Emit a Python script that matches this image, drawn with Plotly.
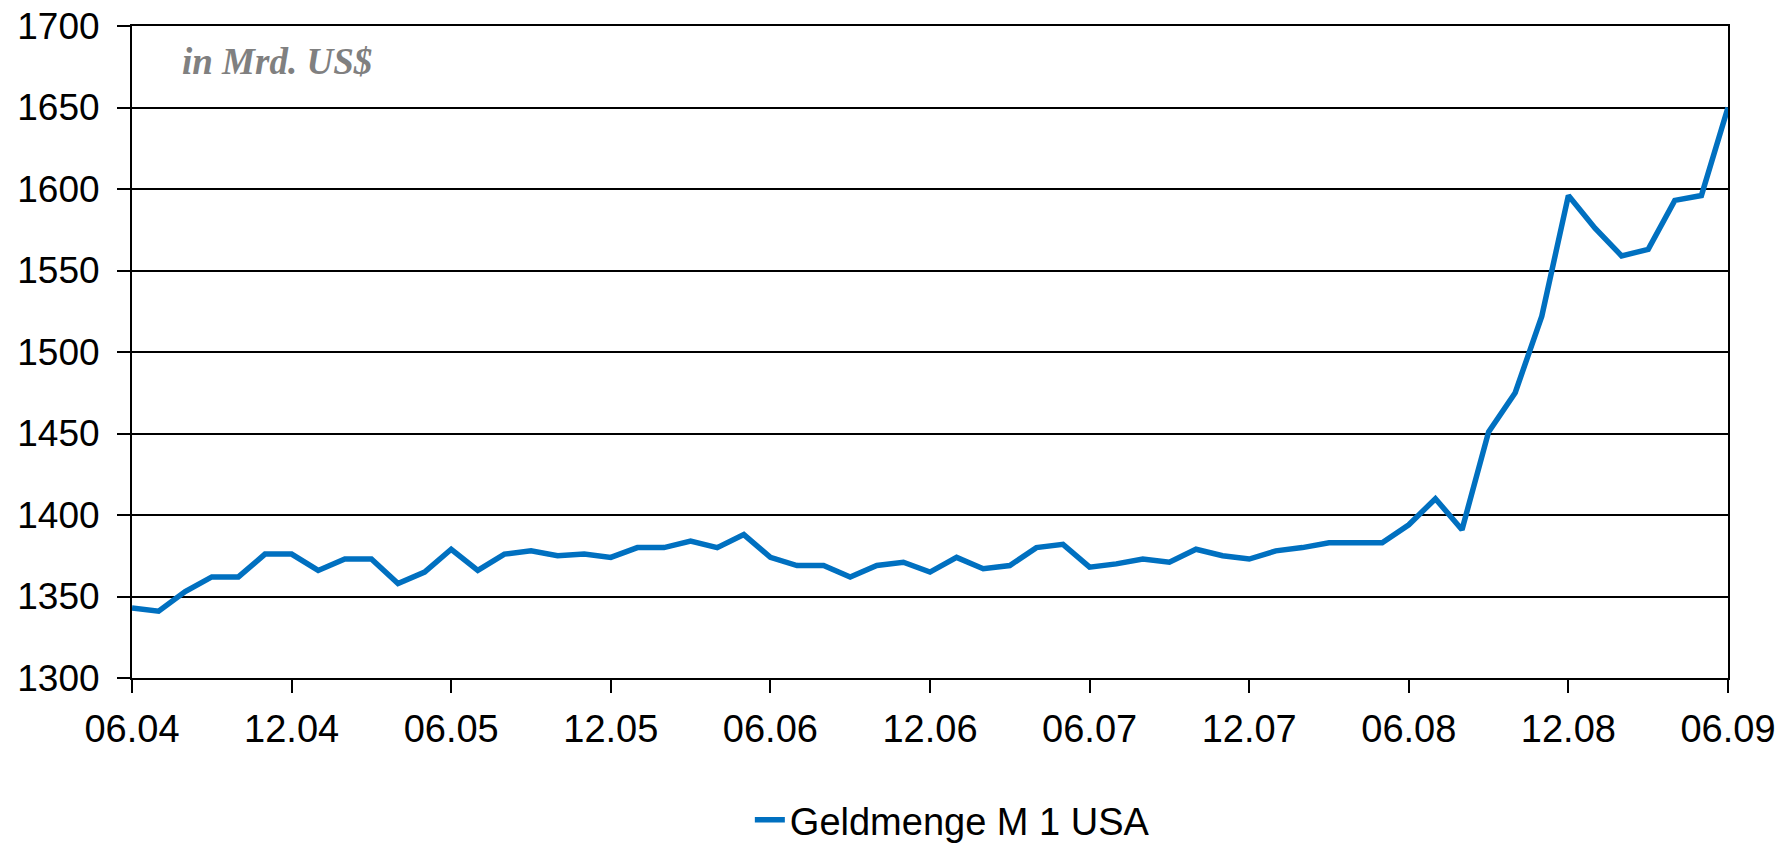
import plotly.graph_objects as go

# Monthly M1 money stock USA, 06.04 .. 06.09 (Mrd. US$)
months_index = list(range(61))
m1_values = [
    1343, 1341, 1353, 1362, 1362, 1376, 1376, 1366, 1373, 1373, 1358, 1365,
    1379, 1366, 1376, 1378, 1375, 1376, 1374, 1380, 1380, 1384, 1380, 1388,
    1374, 1369, 1369, 1362, 1369, 1371, 1365, 1374, 1367, 1369, 1380, 1382,
    1368, 1370, 1373, 1371, 1379, 1375, 1373, 1378, 1380, 1383, 1383, 1383,
    1394, 1410, 1391, 1451, 1475, 1522, 1596, 1576, 1559, 1563, 1593, 1596,
    1650,
]
tick_positions = [0, 6, 12, 18, 24, 30, 36, 42, 48, 54, 60]
tick_labels = ["06.04", "12.04", "06.05", "12.05", "06.06", "12.06",
               "06.07", "12.07", "06.08", "12.08", "06.09"]
series_name = "Geldmenge M 1 USA"
unit_note = "in Mrd. US$"

fig = go.Figure()
fig.add_trace(go.Scatter(
    x=months_index, y=m1_values, mode="lines", name=series_name,
    line=dict(color="#0070C0", width=5.5),
))

font_main = "Liberation Sans, Arial, Helvetica, sans-serif"

fig.update_layout(
    width=1791, height=844,
    margin=dict(l=132, r=63, t=26, b=166, autoexpand=False),
    paper_bgcolor="white", plot_bgcolor="white",
    showlegend=True,
    legend=dict(orientation="h", x=0.514, xanchor="center",
                yref="container", y=(844 - 820) / 844, yanchor="middle",
                font=dict(family=font_main, size=38, color="black"),
                bgcolor="rgba(0,0,0,0)"),
    annotations=[dict(
        text="<b><i>" + unit_note + "</i></b>", xref="paper", yref="paper",
        x=0.03, y=0.945, xanchor="left", yanchor="middle", showarrow=False,
        font=dict(family="Liberation Serif, Times New Roman, serif", size=37, color="#808080"),
    )],
)

fig.update_xaxes(
    range=[0, 60], tickmode="array", tickvals=tick_positions, ticktext=tick_labels,
    showgrid=False, zeroline=False, automargin=False,
    showline=True, linecolor="black", linewidth=2, mirror=True,
    ticks="outside", ticklen=13, tickwidth=2, tickcolor="black",
    tickfont=dict(family=font_main, size=38, color="black"),
    ticklabelstandoff=3,
)
fig.update_yaxes(
    range=[1300, 1700], dtick=50, tick0=1300, automargin=False,
    showgrid=True, gridcolor="black", gridwidth=1.5, zeroline=False,
    showline=True, linecolor="black", linewidth=2, mirror=True,
    ticks="outside", ticklen=13, tickwidth=2, tickcolor="black",
    tickfont=dict(family=font_main, size=37, color="black"),
    ticklabelstandoff=10,
)

fig.write_html("out.html")
